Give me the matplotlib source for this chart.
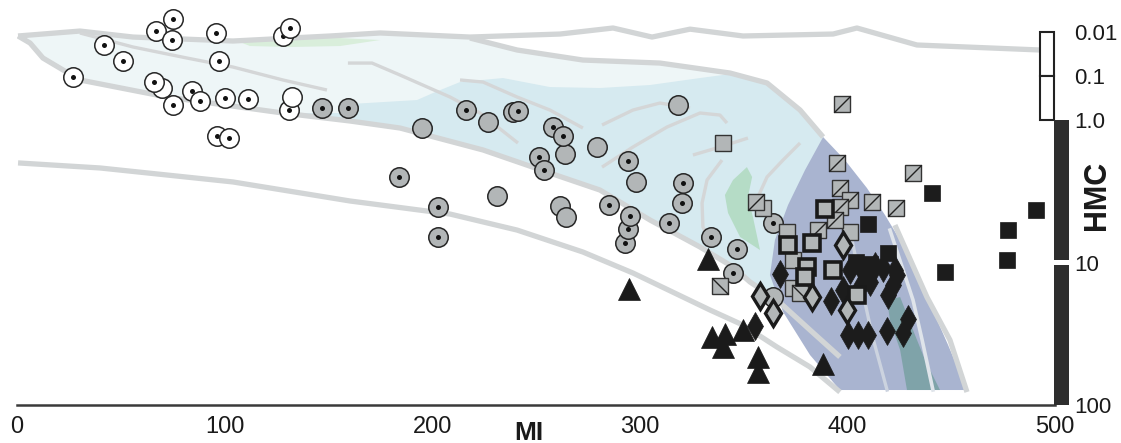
import numpy as np
import matplotlib
matplotlib.use('Agg')
import matplotlib.pyplot as plt
from matplotlib.patches import Rectangle
from matplotlib.ticker import NullLocator

plt.rcParams['font.family'] = ['Liberation Sans', 'DejaVu Sans']

# ---- samples: MI (x) vs HMC (y) ----
white_mi = [27.0, 41.9, 51.1, 67.0, 75.1, 74.7, 95.9, 97.3, 128.1, 131.5, 69.8,
            66.0, 75.1, 84.3, 88.2, 100.2, 111.3, 131.0, 132.5, 96.3, 102.1]
white_hmc = [0.105, 0.0197, 0.0456, 0.0095, 0.00507, 0.0152, 0.0105, 0.0456, 0.0123,
             0.0081, 0.187, 0.137, 0.456, 0.219, 0.370, 0.316, 0.333, 0.593, 0.300, 1.30, 1.34]
white_dot = [1, 1, 1, 1, 1, 1, 1, 1, 1, 1, 0, 1, 1, 1, 1, 1, 1, 1, 0, 1, 1]

gray_mi = [146.9, 159.4, 216.3, 195.1, 226.9, 238.9, 241.3, 318.4, 258.2, 264.0,
           263.0, 251.4, 253.9, 279.4, 294.3, 298.2, 320.8, 320.3, 184.0, 231.2,
           202.8, 202.8, 261.6, 264.5, 285.2, 292.9, 294.3, 295.3, 314.1, 334.3,
           346.8, 344.9, 364.2, 364.2]
gray_hmc = [0.534, 0.534, 0.593, 1.138, 1.033, 0.658, 0.624, 0.456, 1.12, 1.73,
            1.295, 1.818, 2.243, 1.547, 1.94, 2.72, 2.767, 3.82, 2.51, 3.42,
            4.08, 6.62, 4.01, 4.80, 3.95, 7.30, 5.82, 4.72, 5.28, 6.62,
            8.04, 11.85, 5.28, 17.47]
gray_dot = [1, 1, 1, 0, 0, 0, 1, 0, 1, 0,
            1, 1, 1, 0, 1, 0, 1, 1, 1, 0,
            1, 1, 0, 0, 1, 1, 1, 1, 1, 1,
            1, 1, 1, 0]

tri_mi = [332.9, 294.8, 334.8, 341.0, 340.1, 349.7, 356.9, 356.9, 388.3]
tri_hmc = [9.45, 15.35, 33.3, 31.8, 39.2, 29.77, 46.0, 58.7, 51.6]

sq_mi = [340.1, 359.4, 370.9, 401.3, 373.8, 373.8]
sq_hmc = [1.45, 4.15, 6.11, 6.11, 9.6, 15.1]

slash_mi = [397.4, 395.0, 431.6, 396.5, 401.3, 396.5, 411.9, 423.4, 394.1, 385.8, 356.0]
slash_hmc = [0.433, 2.0, 2.355, 3.0, 3.64, 4.08, 3.76, 4.15, 5.03, 5.92, 3.76]
bslash_mi = [338.6, 377.2]
bslash_hmc = [14.62, 16.37]

thick_mi = [389.2, 371.4, 382.9, 380.5, 379.6, 393.1, 404.6]
thick_hmc = [4.21, 7.54, 7.30, 10.75, 12.64, 11.29, 16.91]

gdia_mi = [397.9, 357.9, 364.2, 382.9, 399.9]
gdia_hmc = [7.54, 17.18, 22.6, 17.47, 21.54]

bsq_mi = [440.8, 490.9, 477.4, 476.9, 447.0, 409.9, 419.6, 404.2, 411.0]
bsq_hmc = [3.25, 4.28, 5.92, 9.60, 11.66, 5.37, 8.58, 9.92, 10.3]

bdia_mi = [367.5, 355.5, 392.1, 397.9, 400.3, 405.1, 409.9, 419.1, 426.8, 429.2,
           401.3, 407.0, 410.9, 417.2, 422.0, 423.9, 419.6, 413.1, 406.1, 422.9]
bdia_hmc = [12.04, 27.9, 18.6, 15.6, 32.3, 32.3, 32.3, 30.25, 31.3, 24.9,
            11.29, 11.29, 13.7, 10.93, 14.39, 12.24, 16.9, 10.6, 14.9, 11.3]

# ---- field outlines (MI, HMC) ----
top_mi = [0.5, 30.3, 55.9, 104.0, 150.8, 174.9, 218.2, 261.6, 287.1, 305.9, 324.2,
          349.7, 393.1, 404.6, 433.5, 492.8]
top_hmc = [0.0123, 0.0095, 0.0130, 0.0160, 0.0123, 0.0105, 0.0130, 0.0111, 0.0081,
           0.0130, 0.0086, 0.0123, 0.0111, 0.0081, 0.0197, 0.0256]
upper_mi = [218.2, 240.9, 272.6, 309.7, 343.5, 361.3, 377.2, 388.3]
upper_hmc = [0.0137, 0.0256, 0.0433, 0.0507, 0.0855, 0.144, 0.593, 1.316]
lowA_mi = [0.5, 6.3, 12.5, 30.3, 72.3, 128.1, 160.4, 184.5, 224.5, 256.7, 280.8,
           304.9, 329.0, 344.9, 353.1, 366.1, 382.0, 396.4]
lowA_hmc = [0.0123, 0.0178, 0.039, 0.123, 0.300, 0.693, 1.016, 1.138, 1.623, 2.355,
            3.10, 5.03, 7.78, 10.75, 13.7, 18.33, 29.77, 46.0]
lowB_mi = [0.5, 40.0, 104.0, 160.4, 208.6, 240.9, 272.6, 296.7, 320.8, 333.8, 349.7,
           366.1, 382.0, 396.4]
lowB_hmc = [2.00, 2.17, 2.72, 3.70, 4.57, 5.92, 8.44, 11.85, 17.47, 21.54, 27.46,
            39.2, 54.1, 81.1]
right_mi = [422.9, 438.3, 449.4, 457.6]
right_hmc = [5.46, 17.47, 35.0, 81.1]

inner_lines = [
    ([30.3, 55.9, 81.9, 104.0, 128.1, 149.3], [0.0105, 0.0219, 0.039, 0.0624, 0.123, 0.208]),
    ([159.4, 171.0, 184.5, 208.6, 223.0, 241.3], [0.0507, 0.0507, 0.0949, 0.300, 0.693, 1.45]),
    ([213.4, 224.5, 240.9, 256.7, 272.6], [0.123, 0.137, 0.300, 0.593, 1.138]),
    ([281.8, 296.7, 309.7, 324.2], [1.084, 0.593, 0.411, 0.534]),
    ([281.8, 296.7, 313.1, 329.0, 338.6, 342.0], [2.14, 1.547, 1.12, 0.693, 0.770, 1.05]),
    ([325.6, 338.6, 352.1], [1.76, 1.547, 1.338]),
    ([339.6, 332.4, 330.0, 330.4, 334.8], [1.909, 2.636, 3.82, 5.63, 7.54]),
    ([377.2, 369.0, 361.3, 356.9], [1.45, 1.909, 2.51, 3.47]),
]
stripe_mid = ([401.3, 406.1, 411.9, 419.1], [5.92, 13.27, 32.3, 78.5])
stripe_right = ([420.5, 431.6, 436.0, 441.2], [5.92, 18.33, 35.0, 78.5])

lblue_mi = [155.6, 160.4, 192.7, 200.4, 213.4, 234.1, 256.7, 280.8, 304.9, 329.0,
            343.5, 361.3, 377.2, 388.3, 366.1]
lblue_hmc = [0.693, 0.433, 0.351, 0.243, 0.137, 0.111, 0.178, 0.187, 0.160, 0.111,
             0.090, 0.144, 0.593, 1.316, 18.33]
dark_mi = [388.3, 398.8, 409.4, 418.1, 426.8, 438.3, 448.5, 457.6, 396.4, 382.0,
           369.0, 362.7, 365.1, 371.4, 379.6]
dark_hmc = [1.316, 1.909, 3.0, 4.64, 7.54, 17.47, 37.9, 78.5, 78.5, 44.6,
            22.2, 12.24, 6.95, 3.95, 2.243]
green_mi = [351.6, 354.1, 352.1, 354.5, 357.9, 348.3, 342.5, 341.0, 344.9]
green_hmc = [2.14, 2.51, 3.47, 4.80, 8.17, 6.62, 4.49, 3.36, 2.636]
sliver_mi = [107.4, 131.5, 155.6, 174.9, 155.6, 131.5, 112.2]
sliver_hmc = [0.0169, 0.0137, 0.0137, 0.0152, 0.0208, 0.0219, 0.0208]
teal_mi = [419.1, 425.4, 431.6, 437.4, 444.6, 428.7, 425.4, 420.5]
teal_hmc = [18.33, 17.47, 29.77, 48.3, 78.5, 78.5, 41.1, 25.33]

hmc_ticks = [0.01, 0.1, 1, 10, 100]
hmc_labels = ['0.01', '0.1', '1.0', '10', '100']
mi_ticks = [0, 100, 200, 300, 400, 500]


def hmc_fwd(v):
    lv = np.log10(np.clip(v, 1e-9, None))
    return np.where(lv >= 0, lv * 142.5, lv * 44.0)


def hmc_inv(u):
    u = np.asarray(u, dtype=float)
    return np.where(u >= 0, 10 ** (u / 142.5), 10 ** (u / 44.0))


fig = plt.figure(figsize=(11.21, 4.43), dpi=100)
ax = fig.add_axes([17 / 1121, 38 / 443, 1038 / 1121, 405 / 443])
ax.set_xlim(0, 500)
ax.set_yscale('function', functions=(hmc_fwd, hmc_inv))
ax.set_ylim(100, 0.00187)

# coloured fields
pale_mi = top_mi[:7] + upper_mi[1:] + [366.1] + lowA_mi[:15][::-1]
pale_hmc = top_hmc[:7] + upper_hmc[1:] + [18.33] + lowA_hmc[:15][::-1]
ax.fill(pale_mi, pale_hmc, color='#eef6f7', lw=0, zorder=1)
ax.fill(sliver_mi, sliver_hmc, color='#d9eedb', lw=0, zorder=1)
lb_mi = lblue_mi + lowA_mi[5:15][::-1]
lb_hmc = lblue_hmc + lowA_hmc[5:15][::-1]
ax.fill(lb_mi, lb_hmc, color='#d6eaf0', lw=0, zorder=1.2)
ax.fill(green_mi, green_hmc, color='#b5dcc6', lw=0, zorder=1.3)
ax.fill(dark_mi, dark_hmc, color='#a9b4d0', lw=0, zorder=1.4)
ax.fill(teal_mi, teal_hmc, color='#7fa3a9', lw=0, zorder=1.5)

# outline curves
thick = dict(color='#d2d5d6', lw=3.8, solid_capstyle='butt', zorder=3)
ax.plot(top_mi, top_hmc, **thick)
ax.plot(upper_mi, upper_hmc, **thick)
ax.plot(lowA_mi, lowA_hmc, **thick)
ax.plot(lowB_mi, lowB_hmc, **thick)
ax.plot(right_mi, right_hmc, **thick)
for xs, ys in inner_lines:
    ax.plot(xs, ys, color='#d4d6d7', lw=2.4, solid_capstyle='butt', zorder=3)
ax.plot(*stripe_mid, color='#ccd3df', lw=2.4, zorder=3)
ax.plot(*stripe_right, color='#dfe4ea', lw=2.6, zorder=3)

GRAY = '#b2b6b7'
EDGE = '#262626'


def circles(xs, ys, dots, face):
    for xi, yi, d in zip(xs, ys, dots):
        ax.plot([xi], [yi], 'o', ms=14, mfc=face, mec=EDGE, mew=1.1, clip_on=False, zorder=5)
        if d:
            ax.plot([xi], [yi], 'o', ms=3.6, mfc='#111111', mec='none', clip_on=False, zorder=5)


def squares(xs, ys, diag):
    for xi, yi in zip(xs, ys):
        ax.plot([xi], [yi], 's', ms=12, mfc=GRAY, mec='#333333', mew=1.0, zorder=5)
        if diag is not None:
            ax.plot([xi], [yi], ls='none', marker=diag, ms=12, mec='#222222', mew=1.0, zorder=5)


circles(white_mi, white_hmc, white_dot, 'white')
circles(gray_mi, gray_hmc, gray_dot, GRAY)
ax.plot(tri_mi, tri_hmc, '^', ms=16.5, color='#1a1a1a', mew=0.5, ls='none', zorder=5)
squares(sq_mi, sq_hmc, None)
squares(slash_mi, slash_hmc, [(-1, -1), (1, 1)])
squares(bslash_mi, bslash_hmc, [(-1, 1), (1, -1)])
ax.plot(bsq_mi, bsq_hmc, 's', ms=12, color='#1c1c1c', mew=0.5, ls='none', zorder=5)
ax.plot(bdia_mi, bdia_hmc, 'd', ms=14, color='#1c1c1c', mew=0.5, ls='none', zorder=5)
ax.plot(thick_mi, thick_hmc, 's', ms=12, mfc=GRAY, mec='#1a1a1a', mew=2.6, ls='none', zorder=5)
ax.plot(gdia_mi, gdia_hmc, 'd', ms=13, mfc=GRAY, mec='#1a1a1a', mew=2.4, ls='none', zorder=5)

# HMC scale bar
for lo, hi in [(0.01, 0.1), (0.1, 1.0)]:
    ax.add_patch(Rectangle((492.8, lo), 6.7, hi - lo, facecolor='white', edgecolor='#222222',
                           lw=1.5, clip_on=False, zorder=4))
for lo, hi in [(1.0, 9.65), (10.45, 100)]:
    ax.add_patch(Rectangle((499.5, lo), 7.2, hi - lo, facecolor='#2e2e2e', edgecolor='none',
                           clip_on=False, zorder=4))

for s in ['top', 'left', 'right']:
    ax.spines[s].set_visible(False)
ax.spines['bottom'].set_color('#3a3a3a')
ax.spines['bottom'].set_linewidth(1.8)

ax.set_xticks(mi_ticks)
ax.set_xticklabels([str(t) for t in mi_ticks])
ax.yaxis.tick_right()
ax.set_yticks(hmc_ticks)
ax.set_yticklabels(hmc_labels)
ax.yaxis.set_minor_locator(NullLocator())
ax.tick_params(axis='x', length=0, pad=8, labelsize=17, labelcolor='#1a1a1a')
ax.tick_params(axis='y', length=0, pad=14, labelsize=16, labelcolor='#1a1a1a')

fig.text(529 / 1121, 1 - 421 / 443, 'MI', ha='center', va='top', fontsize=19,
         fontweight='bold', color='#1a1a1a')
fig.text(1097 / 1121, 1 - 195 / 443, 'HMC', ha='center', va='center', rotation=90,
         fontsize=22, fontweight='bold', color='#1a1a1a')

fig.savefig('out.png', dpi=100)
